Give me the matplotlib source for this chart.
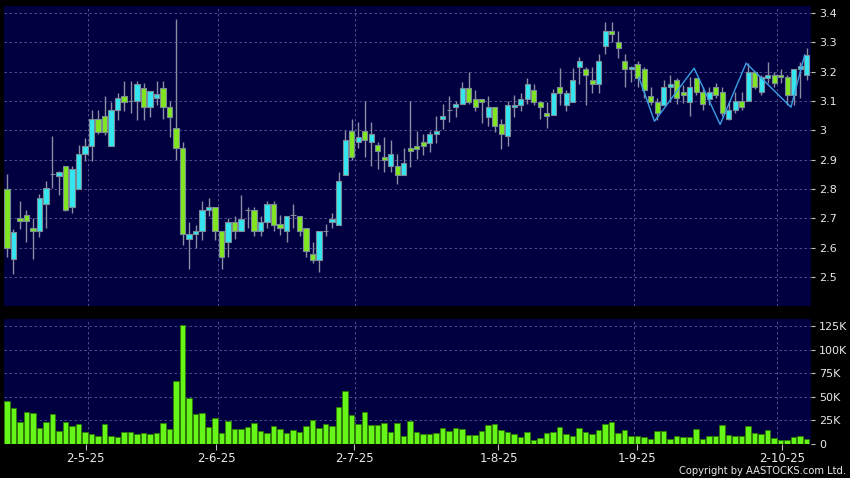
import numpy as np
import matplotlib
matplotlib.use("Agg")
import matplotlib.pyplot as plt
from matplotlib.ticker import FuncFormatter

# %%
# * Data (one entry per trading day)
opens = [2.80, 2.56, 2.70, 2.71, 2.667, 2.658, 2.75, 2.85, 2.846, 2.877,
         2.738, 2.80, 2.919, 2.948, 3.039, 3.048, 2.948, 3.068, 3.116, 3.10,
         3.10, 3.146, 3.078, 3.11, 3.146, 3.078, 3.007, 2.94, 2.63, 2.647,
         2.658, 2.729, 2.739, 2.656, 2.619, 2.688, 2.656, 2.729, 2.729, 2.656,
         2.688, 2.75, 2.68, 2.657, 2.71, 2.708, 2.668, 2.58, 2.558, 2.657,
         2.687, 2.677, 2.848, 2.997, 2.96, 2.997, 2.96, 2.951, 2.908, 2.878,
         2.878, 2.848, 2.94, 2.948, 2.96, 2.957, 2.986, 3.037, 3.068, 3.078,
         3.089, 3.146, 3.108, 3.108, 3.046, 3.078, 3.021, 2.98, 3.078, 3.088,
         3.108, 3.139, 3.097, 3.058, 3.053, 3.149, 3.087, 3.098, 3.217, 3.209,
         3.17, 3.158, 3.289, 3.34, 3.30, 3.238, 3.209, 3.226, 3.209, 3.117,
         3.098, 3.087, 3.149, 3.17, 3.13, 3.098, 3.18, 3.13, 3.108, 3.149,
         3.13, 3.04, 3.068, 3.10, 3.10, 3.20, 3.13, 3.18, 3.19, 3.19,
         3.181, 3.119, 3.21, 3.19]
highs = [2.85, 2.665, 2.76, 2.73, 2.70, 2.783, 2.826, 2.98, 2.86, 2.88,
         2.877, 2.95, 2.975, 3.07, 3.07, 3.117, 3.098, 3.126, 3.168, 3.168,
         3.168, 3.16, 3.134, 3.168, 3.168, 3.10, 3.38, 2.96, 2.688, 2.678,
         2.76, 2.77, 2.739, 2.656, 2.70, 2.707, 2.78, 2.74, 2.739, 2.709,
         2.76, 2.76, 2.71, 2.708, 2.75, 2.708, 2.668, 2.62, 2.657, 2.68,
         2.72, 2.857, 3.0, 3.039, 3.029, 3.10, 3.029, 2.96, 2.978, 2.968,
         2.92, 2.94, 3.10, 2.997, 2.987, 2.997, 3.048, 3.089, 3.116, 3.10,
         3.165, 3.198, 3.137, 3.108, 3.116, 3.078, 3.04, 3.10, 3.12, 3.128,
         3.18, 3.159, 3.10, 3.098, 3.14, 3.212, 3.138, 3.212, 3.249, 3.217,
         3.217, 3.259, 3.368, 3.368, 3.34, 3.259, 3.22, 3.238, 3.217, 3.149,
         3.11, 3.17, 3.19, 3.18, 3.155, 3.181, 3.18, 3.149, 3.149, 3.16,
         3.149, 3.10, 3.13, 3.13, 3.229, 3.20, 3.19, 3.234, 3.20, 3.21,
         3.19, 3.21, 3.234, 3.28]
lows = [2.57, 2.51, 2.665, 2.62, 2.56, 2.637, 2.667, 2.805, 2.78, 2.725,
        2.718, 2.80, 2.896, 2.896, 2.987, 2.984, 2.948, 3.035, 3.066, 3.058,
        3.036, 3.036, 3.047, 3.087, 3.04, 2.976, 2.90, 2.61, 2.526, 2.60,
        2.628, 2.707, 2.628, 2.526, 2.569, 2.63, 2.656, 2.667, 2.64, 2.64,
        2.667, 2.657, 2.645, 2.62, 2.668, 2.64, 2.568, 2.549, 2.517, 2.64,
        2.668, 2.677, 2.848, 2.898, 2.94, 2.908, 2.878, 2.869, 2.857, 2.857,
        2.817, 2.848, 2.876, 2.904, 2.915, 2.927, 2.957, 3.004, 3.029, 3.046,
        3.089, 3.089, 3.066, 3.025, 3.014, 2.995, 2.938, 2.946, 3.046, 3.066,
        3.089, 3.085, 3.04, 3.007, 3.053, 3.087, 3.066, 3.098, 3.158, 3.087,
        3.129, 3.129, 3.259, 3.30, 3.248, 3.149, 3.166, 3.149, 3.11, 3.087,
        3.036, 3.087, 3.098, 3.09, 3.093, 3.05, 3.12, 3.068, 3.087, 3.11,
        3.05, 3.036, 3.058, 3.068, 3.10, 3.14, 3.12, 3.16, 3.149, 3.16,
        3.086, 3.086, 3.11, 3.17]
closes = [2.60, 2.655, 2.69, 2.69, 2.656, 2.769, 2.805, 2.85, 2.857, 2.73,
          2.867, 2.92, 2.948, 3.039, 2.996, 2.996, 3.07, 3.109, 3.098, 3.10,
          3.158, 3.078, 3.134, 3.125, 3.078, 3.047, 2.94, 2.647, 2.647, 2.658,
          2.729, 2.739, 2.656, 2.569, 2.688, 2.656, 2.698, 2.729, 2.656, 2.688,
          2.749, 2.677, 2.668, 2.708, 2.71, 2.657, 2.589, 2.558, 2.657, 2.657,
          2.699, 2.827, 2.966, 2.908, 2.978, 2.966, 2.989, 2.929, 2.898, 2.92,
          2.848, 2.889, 2.93, 2.937, 2.947, 2.986, 2.997, 3.048, 3.068, 3.089,
          3.146, 3.097, 3.078, 3.098, 3.078, 3.014, 2.987, 3.088, 3.088, 3.108,
          3.159, 3.097, 3.078, 3.049, 3.129, 3.129, 3.129, 3.17, 3.238, 3.189,
          3.158, 3.238, 3.34, 3.328, 3.28, 3.209, 3.217, 3.18, 3.138, 3.098,
          3.058, 3.149, 3.159, 3.11, 3.119, 3.149, 3.13, 3.089, 3.13, 3.119,
          3.058, 3.068, 3.10, 3.079, 3.20, 3.149, 3.181, 3.19, 3.16, 3.181,
          3.119, 3.21, 3.22, 3.258]

# volume in thousands of shares
volumes = [45.2, 37.7, 22.8, 33.5, 32.8, 16.0, 22.8, 31.7, 13.5, 22.4,
           18.9, 21.0, 12.1, 9.6, 7.8, 20.3, 8.5, 7.1, 11.8, 11.8,
           10.0, 11.0, 10.0, 10.7, 22.1, 15.7, 66.6, 126.1, 48.4, 31.0,
           32.1, 17.5, 27.1, 11.0, 24.2, 15.3, 15.3, 17.8, 21.4, 13.5,
           11.0, 18.2, 15.0, 11.0, 13.9, 12.5, 18.5, 24.6, 16.7, 21.0,
           18.2, 39.2, 56.3, 30.3, 20.3, 33.8, 19.2, 19.2, 21.7, 11.8,
           21.7, 8.5, 23.5, 12.1, 9.6, 9.6, 10.7, 16.7, 13.2, 16.4,
           15.7, 9.3, 9.3, 13.5, 19.2, 20.7, 13.9, 12.1, 10.0, 6.8,
           11.8, 3.9, 6.1, 11.0, 11.8, 17.1, 9.6, 8.5, 16.0, 12.5,
           9.6, 14.2, 20.3, 22.8, 11.0, 14.6, 7.8, 7.5, 7.1, 4.6,
           13.2, 13.2, 5.3, 8.5, 6.8, 6.8, 15.7, 5.3, 7.8, 7.5,
           19.6, 9.3, 8.5, 8.5, 18.2, 10.7, 10.0, 13.9, 6.1, 3.9,
           3.9, 6.8, 7.8, 4.3]

# zigzag overlay (day index, price)
zigzag_x = [97.2, 99.6, 105.7, 109.7, 113.7, 120.6, 122.7]
zigzag_y = [3.181, 3.031, 3.212, 3.020, 3.229, 3.079, 3.257]

# month boundaries (grid) and date labels
month_grid = [12.5, 32.5, 53.6, 75.6, 96.5, 118.5]
date_ticks = [12.1, 32.2, 53.4, 75.6, 96.9, 119.2]
date_labels = ["2-5-25", "2-6-25", "2-7-25", "1-8-25", "1-9-25", "2-10-25"]

price_ticks = [2.5, 2.6, 2.7, 2.8, 2.9, 3.0, 3.1, 3.2, 3.3, 3.4]
vol_ticks = [0, 25, 50, 75, 100, 125]
vol_labels = ["0", "25K", "50K", "75K", "100K", "125K"]

# %%
# * Styling
bg = "#000000"
panel = "#000040"
grid_c = "#5a5a96"
text_c = "#e8e8e8"
up_c = "#33e6f2"
down_c = "#80e61f"
flat_c = "#9aa0b0"
wick_c = "#8c8ca4"
edge_c = "#7b8c96"

x = np.arange(len(opens))
o = np.array(opens)
c = np.array(closes)
colors = [up_c if cc > oo else (down_c if cc < oo else flat_c) for oo, cc in zip(o, c)]

fig = plt.figure(figsize=(8.5, 4.78), dpi=100, facecolor=bg)
ax = fig.add_axes([4 / 850, 1 - 306 / 478, 806.5 / 850, 300 / 478])
axv = fig.add_axes([4 / 850, 1 - 443.5 / 478, 806.5 / 850, 124.5 / 478], sharex=ax)

for a in (ax, axv):
    a.set_facecolor(panel)
    for s in a.spines.values():
        s.set_visible(False)
    a.yaxis.tick_right()
    a.tick_params(axis="y", direction="out", length=3, width=0.8, color="#c0c0c0",
                  labelcolor=text_c, labelsize=8, pad=3)
    a.set_xticks(month_grid, minor=True)
    a.grid(which="minor", axis="x", color=grid_c, linestyle=(0, (3, 3)), linewidth=0.6)
    a.grid(which="major", axis="y", color=grid_c, linestyle=(0, (3, 3)), linewidth=0.6)
    a.set_axisbelow(True)

# %%
# * Candles
ax.vlines(x, lows, highs, color=wick_c, linewidth=1, zorder=2)
ax.bar(x, np.abs(c - o), bottom=np.minimum(o, c), width=0.78, color=colors,
       edgecolor=edge_c, linewidth=0.8, zorder=3)
ax.plot(zigzag_x, zigzag_y, color="#3c9fe6", linewidth=1, zorder=4)

ax.set_xlim(-0.46, 123.6)
ax.set_ylim(2.4014, 3.4238)
ax.set_yticks(price_ticks)
ax.yaxis.set_major_formatter(FuncFormatter(lambda v, p: f"{v:g}"))
ax.set_xticks(date_ticks)
ax.tick_params(axis="x", which="both", length=0, labelbottom=False)

# %%
# * Volume
axv.bar(x, volumes, width=0.86, color="#66f519", edgecolor="#2f7a00", linewidth=0.6, zorder=3)
axv.set_ylim(0, 132.5)
axv.set_yticks(vol_ticks)
axv.set_yticklabels(vol_labels)
axv.set_xticks(date_ticks)
axv.set_xticklabels(date_labels)
axv.tick_params(axis="x", which="major", direction="out", length=4, width=0.8,
                color="#c0c0c0", labelcolor=text_c, labelsize=8.5, pad=2)
axv.tick_params(axis="x", which="minor", length=0)

fig.text(846 / 850, 1 - 471 / 478, "Copyright by AASTOCKS.com Ltd.", color=text_c,
         fontsize=7.2, ha="right", va="center")

fig.savefig("out.png", dpi=100, facecolor=bg)
